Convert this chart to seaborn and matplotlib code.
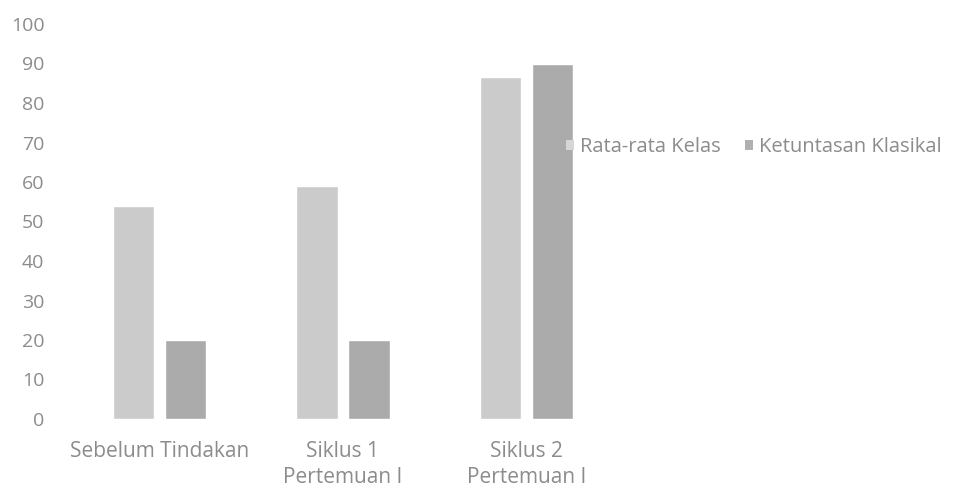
import matplotlib
matplotlib.use("Agg")
import matplotlib.pyplot as plt
import seaborn as sns
import pandas as pd

categories = ["Sebelum Tindakan", "Siklus 1\nPertemuan I", "Siklus 2\nPertemuan I"]
series_names = ["Rata-rata Kelas", "Ketuntasan Klasikal"]
rata_rata = [54, 59, 86.5]
ketuntasan = [20, 20, 90]
y_ticks = [0, 10, 20, 30, 40, 50, 60, 70, 80, 90, 100]

df = pd.DataFrame({
    "cat": categories * 2,
    "series": [series_names[0]] * 3 + [series_names[1]] * 3,
    "value": rata_rata + ketuntasan,
})

sns.set_theme(style="white")
plt.rcParams["font.family"] = ["Open Sans", "DejaVu Sans"]
text_color = "#8c8c8c"

fig = plt.figure(figsize=(9.62, 4.88), dpi=100)
ax = fig.add_axes([68 / 962, 1 - 419 / 488, (618 - 68) / 962, (419 - 24) / 488])

sns.barplot(data=df, x="cat", y="value", hue="series", order=categories,
            hue_order=series_names, palette=["#cbcbcb", "#ababab"],
            width=0.568, gap=0.21, ax=ax, legend=False, saturation=1)

ax.set_ylim(0, 100)
ax.set_yticks(y_ticks)
ax.set_yticklabels([str(t) for t in y_ticks])
ax.set_xlabel("")
ax.set_ylabel("")
for s in ax.spines.values():
    s.set_visible(False)
ax.tick_params(axis="both", length=0, colors=text_color)
ax.tick_params(axis="y", pad=17, labelsize=14)
ax.tick_params(axis="x", pad=16, labelsize=15)
for lbl in ax.get_xticklabels():
    lbl.set_linespacing(1.3)

from matplotlib.patches import Patch
handles = [Patch(facecolor="#d6d6d6", edgecolor="none"),
           Patch(facecolor="#b0b0b0", edgecolor="none")]
leg = fig.legend(handles, series_names, loc="center left",
                 bbox_to_anchor=(552 / 962, 1 - 147 / 488), ncol=2,
                 frameon=False, fontsize=14.5, handlelength=0.4,
                 handleheight=0.4, handletextpad=0.3, columnspacing=1.2,
                 borderpad=0.2)
for t in leg.get_texts():
    t.set_color(text_color)

fig.savefig("out.png", dpi=100)
